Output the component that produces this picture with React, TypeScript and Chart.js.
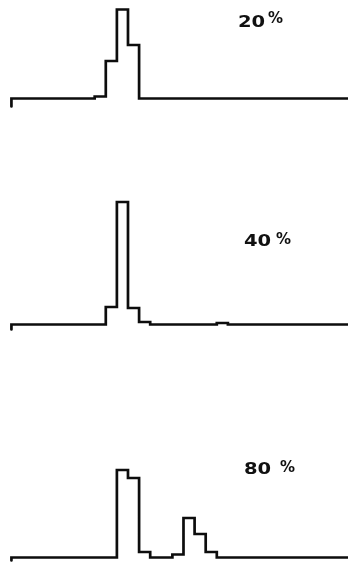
import { useEffect, useRef } from "react";
import { Chart, registerables } from "chart.js";

Chart.register(...registerables);

// Pulse-height records, one trace per loading. Values are counts per channel,
// channel index 0..30; the first point of each trace is the pen-start dip.
const CHANNELS = Array.from({ length: 31 }, (_, i) => i);
const LOADINGS = [20, 40, 80];
const PEN_START = [-8, -5, -3];

const COUNTS_20 = [
  0, 0, 0, 0, 0, 0, 0, 0, 2, 37.5, 89, 53.5, 0, 0, 0, 0,
  0, 0, 0, 0, 0, 0, 0, 0, 0, 0, 0, 0, 0, 0, 0,
];
const COUNTS_40 = [
  0, 0, 0, 0, 0, 0, 0, 0, 0, 17.5, 122.5, 16.5, 2.5, 0, 0, 0,
  0, 0, 0, 1.5, 0, 0, 0, 0, 0, 0, 0, 0, 0, 0, 0,
];
const COUNTS_80 = [
  0, 0, 0, 0, 0, 0, 0, 0, 0, 0, 87.5, 79.5, 5.5, 0, 0, 3,
  39.5, 23.5, 5.5, 0, 0, 0, 0, 0, 0, 0, 0, 0, 0, 0, 0,
];
const SERIES = [COUNTS_20, COUNTS_40, COUNTS_80];

// Page layout for the three stacked traces (pixels).
const WIDTH = 348;
const X_MIN = -1.03;
const X_MAX = 30.32;
const PANELS = [
  { top: 0, height: 120, baseline: 98.5, labelX: 238, labelY: 26.5, pctX: 268, pctRise: 3.5 },
  { top: 180, height: 160, baseline: 144.5, labelX: 244, labelY: 65.5, pctX: 276, pctRise: 2 },
  { top: 440, height: 122, baseline: 117.5, labelX: 244, labelY: 33.5, pctX: 280, pctRise: 2 },
];

function tracePoints(counts: number[], dip: number) {
  const pts = [
    { x: CHANNELS[0], y: dip },
    { x: CHANNELS[0], y: counts[0] },
  ];
  // each channel holds its value from its left edge to its right edge
  for (let i = 1; i < CHANNELS.length; i++) {
    pts.push({ x: CHANNELS[i] - 0.5, y: counts[i - 1] });
    pts.push({ x: CHANNELS[i] - 0.5, y: counts[i] });
  }
  const last = CHANNELS.length - 1;
  pts.push({ x: CHANNELS[last] + 0.5, y: counts[last] });
  return pts;
}

export default function App() {
  const refs = useRef<(HTMLCanvasElement | null)[]>([]);

  useEffect(() => {
    const charts = PANELS.map((p, idx) => {
      const canvas = refs.current[idx]!;
      const loading = LOADINGS[idx];
      const labelPlugin = {
        id: "loadingLabel",
        afterDraw(chart: Chart) {
          const ctx = chart.ctx;
          ctx.save();
          ctx.fillStyle = "#111";
          ctx.textBaseline = "alphabetic";
          ctx.textAlign = "left";
          ctx.font = 'bold 16px "DejaVu Sans"';
          ctx.translate(p.labelX, p.labelY);
          ctx.scale(1.22, 1);
          ctx.fillText(String(loading), 0, 0);
          ctx.restore();
          ctx.save();
          ctx.fillStyle = "#111";
          ctx.textBaseline = "alphabetic";
          ctx.textAlign = "left";
          ctx.font = 'bold 15px "DejaVu Sans"';
          ctx.fillText("%", p.pctX, p.labelY - p.pctRise);
          ctx.restore();
        },
      };
      return new Chart(canvas, {
        type: "line",
        data: {
          datasets: [
            {
              data: tracePoints(SERIES[idx], PEN_START[idx]),
              borderColor: "#0d0d0d",
              borderWidth: 2.7,
              borderJoinStyle: "miter",
              borderCapStyle: "round",
              pointRadius: 0,
              fill: false,
              tension: 0,
            },
          ],
        },
        options: {
          responsive: false,
          animation: false,
          devicePixelRatio: 1,
          layout: { padding: 0 },
          plugins: {
            legend: { display: false },
            tooltip: { enabled: false },
            title: { display: false },
          },
          scales: {
            x: { type: "linear", display: false, min: X_MIN, max: X_MAX },
            y: {
              type: "linear",
              display: false,
              min: -(p.height - p.baseline),
              max: p.baseline,
            },
          },
        },
        plugins: [labelPlugin],
      });
    });
    return () => charts.forEach((c) => c.destroy());
  }, []);

  return (
    <div
      style={{
        position: "fixed",
        left: 0,
        top: 0,
        width: WIDTH,
        height: 562,
        background: "#fff",
      }}
    >
      {PANELS.map((p, idx) => (
        <canvas
          key={idx}
          ref={(el) => {
            refs.current[idx] = el;
          }}
          width={WIDTH}
          height={p.height}
          style={{
            position: "absolute",
            left: 0,
            top: p.top,
            width: WIDTH,
            height: p.height,
            display: "block",
          }}
        />
      ))}
    </div>
  );
}
